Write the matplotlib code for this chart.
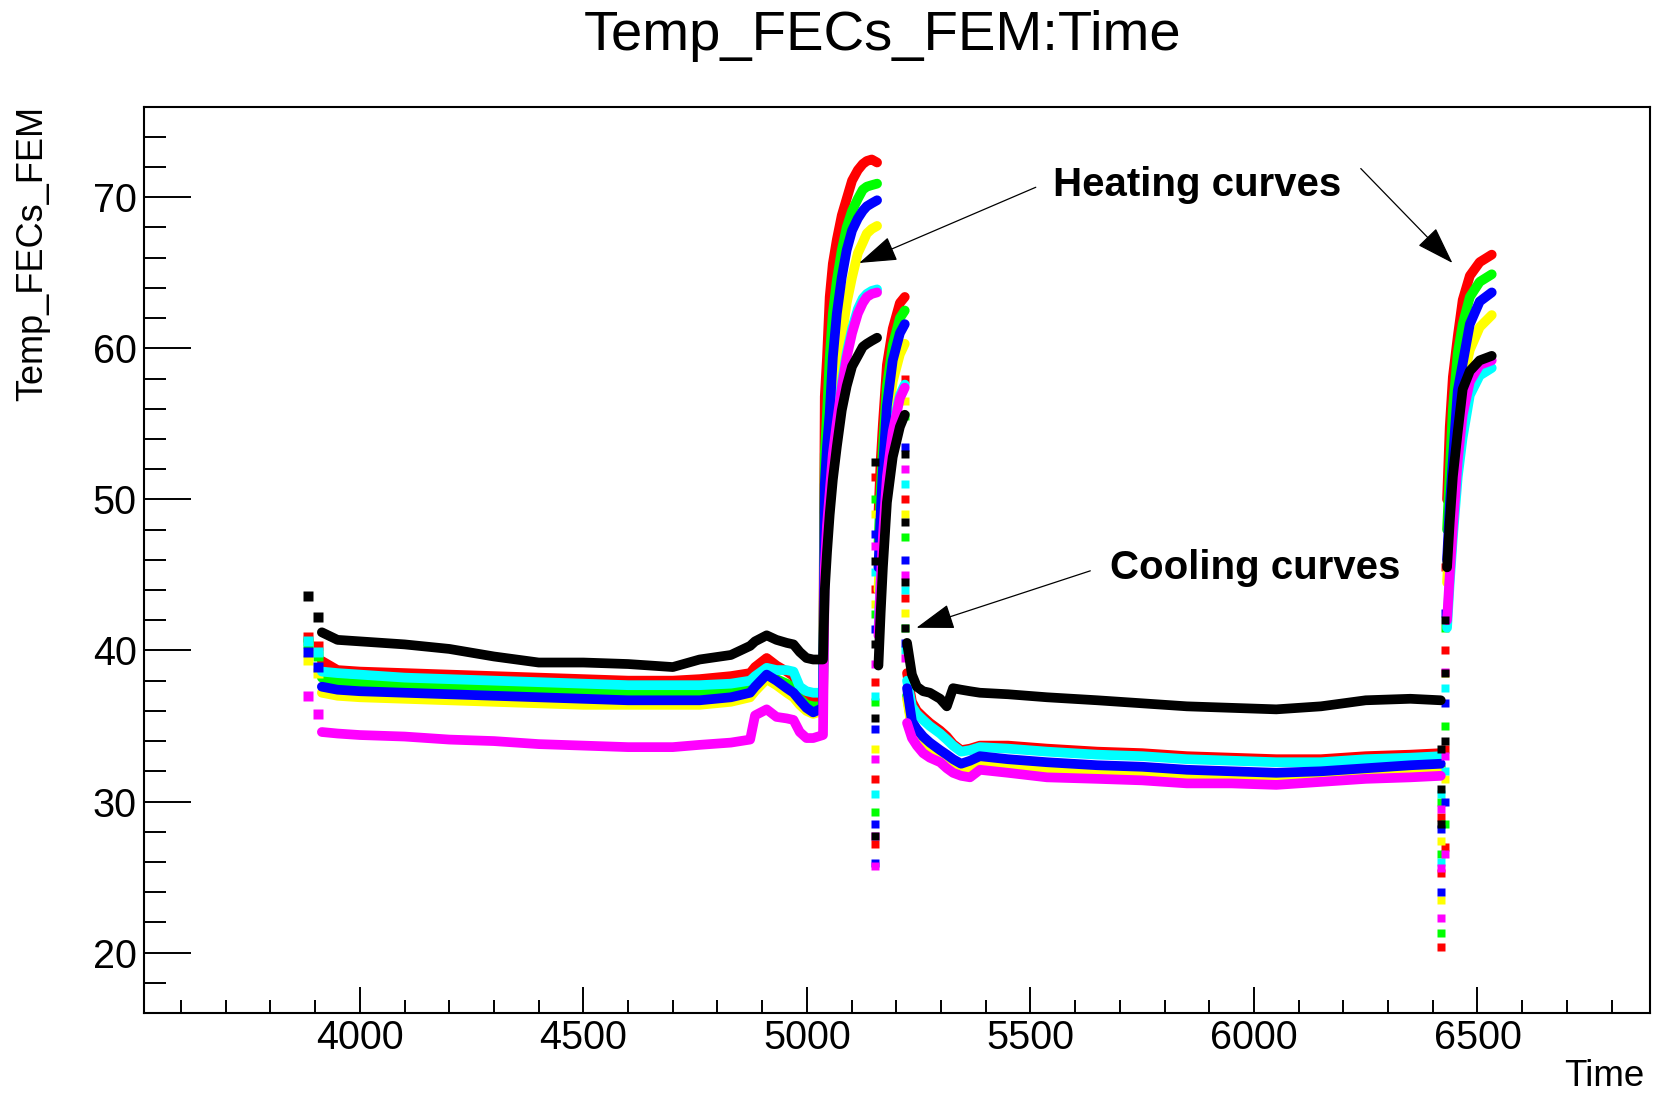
import matplotlib
matplotlib.use("Agg")
import matplotlib.pyplot as plt
from matplotlib.ticker import MultipleLocator

plt.rcParams["font.family"] = ["Liberation Sans", "DejaVu Sans"]

# ------------------------------------------------
# data (time, temperature)
# ------------------------------------------------
# series in drawing order, ROOT colours
SERIES = ["red", "green", "yellow", "cyan", "blue", "magenta", "black"]
COLORS = {"red": "#ff0000", "green": "#00ff00", "yellow": "#ffff00",
          "cyan": "#00ffff", "blue": "#0000ff", "magenta": "#ff00ff",
          "black": "#000000"}

# first two readings
START_T = [3884, 3906]
START = {
    "red":     [40.9, 40.3],
    "green":   [40.5, 39.6],
    "yellow":  [39.4, 38.5],
    "cyan":    [40.6, 39.9],
    "blue":    [39.9, 38.9],
    "magenta": [37.0, 35.8],
    "black":   [43.6, 42.2],
}

# slow drift before first heating, then heating curve 1
BASE_T = [3915, 3950, 4000, 4100, 4200, 4300, 4400, 4500, 4600, 4700, 4760,
          4830, 4873, 4884, 4910, 4932, 4955, 4970, 4984, 4999, 5014, 5036,
          5040, 5045, 5051, 5058, 5067, 5078, 5089, 5101, 5114, 5125, 5134,
          5145, 5157]
BASE = {
    "red":     [39.3, 38.7, 38.6, 38.5, 38.4, 38.3, 38.2, 38.1, 38.0, 38.0, 38.1,
                38.3, 38.5, 38.9, 39.5, 39.0, 38.6, 38.3, 37.2, 36.9, 36.8, 36.8,
                56.8, 59.4, 63.4, 65.6, 67.2, 68.8, 69.9, 71.1, 71.8, 72.2, 72.4,
                72.5, 72.3],
    "green":   [38.2, 37.9, 37.8, 37.7, 37.6, 37.5, 37.4, 37.2, 37.2, 37.2, 37.3,
                37.4, 37.6, 37.9, 38.4, 38.1, 37.8, 37.5, 36.8, 36.4, 36.3, 36.3,
                53.0, 55.7, 59.4, 62.3, 64.5, 66.5, 68.0, 69.1, 69.9, 70.5, 70.7,
                70.8, 70.9],
    "yellow":  [37.2, 37.0, 36.9, 36.8, 36.7, 36.6, 36.5, 36.4, 36.4, 36.4, 36.4,
                36.6, 36.9, 37.3, 38.1, 37.7, 37.2, 36.9, 36.4, 36.0, 35.8, 36.0,
                49.0, 51.5, 53.5, 55.7, 57.9, 60.7, 63.0, 64.7, 66.3, 67.0, 67.6,
                67.9, 68.1],
    "cyan":    [38.6, 38.5, 38.4, 38.2, 38.1, 38.0, 37.9, 37.8, 37.7, 37.7, 37.7,
                37.8, 38.0, 38.3, 38.85, 38.7, 38.7, 38.6, 37.6, 37.3, 37.2, 37.2,
                46.0, 48.8, 51.0, 53.4, 55.5, 57.7, 59.7, 61.3, 62.6, 63.3, 63.6,
                63.8, 63.9],
    "blue":    [37.6, 37.4, 37.3, 37.2, 37.1, 37.0, 36.9, 36.8, 36.7, 36.7, 36.7,
                36.9, 37.2, 37.6, 38.4, 38.0, 37.5, 37.2, 36.7, 36.2, 35.9, 36.2,
                51.0, 53.5, 55.7, 59.4, 62.3, 64.7, 66.5, 67.8, 68.6, 69.1, 69.4,
                69.6, 69.8],
    "magenta": [34.6, 34.5, 34.4, 34.3, 34.1, 34.0, 33.8, 33.7, 33.6, 33.6, 33.75,
                33.9, 34.1, 35.7, 36.1, 35.6, 35.5, 35.4, 34.6, 34.2, 34.2, 34.4,
                45.5, 48.3, 50.5, 53.0, 55.1, 57.4, 59.4, 61.0, 62.3, 63.0, 63.4,
                63.6, 63.7],
    "black":   [41.2, 40.7, 40.6, 40.4, 40.1, 39.6, 39.2, 39.2, 39.1, 38.9, 39.4,
                39.7, 40.3, 40.6, 41.0, 40.7, 40.5, 40.4, 39.9, 39.5, 39.4, 39.4,
                44.0, 46.5, 49.0, 51.3, 53.5, 55.9, 57.5, 58.8, 59.5, 60.1, 60.3,
                60.5, 60.7],
}

# fast drop after heating 1 (single readings)
DROP1_T = 5153
DROP1 = {
    "red":     [51.5, 44.1, 37.9, 31.5, 27.2],
    "green":   [50.0, 42.4, 36.6, 29.3],
    "yellow":  [49.0, 43.1, 33.5],
    "cyan":    [45.2, 37.0, 30.5],
    "blue":    [47.7, 41.4, 34.8, 28.5, 25.9],
    "magenta": [46.9, 39.1, 32.8, 27.7, 25.7],
    "black":   [52.5, 45.9, 40.4, 35.5, 27.7],
}

# heating curve 2
HEAT2_T = [5160, 5165, 5170, 5179, 5192, 5208, 5219]
HEAT2 = {
    "red":     [49.0, 52.5, 55.0, 58.9, 61.3, 63.0, 63.4],
    "green":   [47.0, 50.5, 53.5, 57.5, 60.2, 62.0, 62.5],
    "yellow":  [44.0, 47.5, 50.5, 54.8, 57.8, 59.6, 60.3],
    "cyan":    [41.3, 44.8, 47.8, 51.8, 54.8, 56.9, 57.6],
    "blue":    [45.5, 49.0, 52.0, 56.2, 59.2, 61.0, 61.6],
    "magenta": [41.0, 44.5, 47.5, 51.5, 54.5, 56.7, 57.4],
    "black":   [39.0, 42.5, 45.5, 49.8, 52.8, 54.8, 55.6],
}

# fast drop after heating 2
DROP2_T = 5219
DROP2 = {
    "red":     [58.0, 50.0, 43.5],
    "green":   [55.5, 47.5, 41.5],
    "yellow":  [56.5, 49.0, 42.5],
    "cyan":    [51.0, 44.0, 40.0],
    "blue":    [53.5, 46.0, 40.5],
    "magenta": [52.0, 45.0, 39.5],
    "black":   [53.0, 48.5, 44.5, 41.5],
}

# cooling curve and long plateau
COOL_T = [5224, 5235, 5246, 5260, 5275, 5298, 5313, 5327, 5345, 5365, 5387,
          5450, 5537, 5650, 5750, 5850, 5950, 6050, 6150, 6250, 6350, 6418]
COOL = {
    "red":     [38.5, 36.6, 36.0, 35.6, 35.2, 34.7, 34.3, 33.8, 33.4, 33.5, 33.7,
                33.7, 33.5, 33.3, 33.2, 33.0, 32.9, 32.8, 32.8, 33.0, 33.1, 33.2],
    "green":   [37.0, 35.0, 34.5, 34.0, 33.6, 33.1, 32.8, 32.5, 32.2, 32.4, 32.7,
                32.5, 32.3, 32.1, 32.0, 31.9, 31.8, 31.7, 31.8, 32.0, 32.2, 32.3],
    "yellow":  [36.8, 34.8, 34.3, 33.8, 33.4, 32.9, 32.6, 32.3, 32.0, 32.2, 32.5,
                32.3, 32.1, 31.9, 31.8, 31.7, 31.6, 31.5, 31.6, 31.8, 32.0, 32.1],
    "cyan":    [38.0, 36.3, 35.8, 35.4, 35.0, 34.5, 34.1, 33.7, 33.3, 33.4, 33.6,
                33.5, 33.3, 33.1, 33.0, 32.8, 32.7, 32.6, 32.6, 32.8, 32.9, 33.0],
    "blue":    [37.5, 35.3, 34.8, 34.3, 33.9, 33.4, 33.1, 32.8, 32.5, 32.7, 33.0,
                32.8, 32.6, 32.4, 32.3, 32.1, 32.0, 31.9, 32.0, 32.2, 32.4, 32.5],
    "magenta": [35.2, 34.2, 33.7, 33.2, 32.9, 32.6, 32.2, 31.9, 31.7, 31.6, 32.1,
                31.9, 31.6, 31.5, 31.4, 31.2, 31.2, 31.1, 31.3, 31.5, 31.6, 31.7],
    "black":   [40.5, 38.4, 37.6, 37.3, 37.2, 36.8, 36.3, 37.5, 37.4, 37.3, 37.2,
                37.1, 36.9, 36.7, 36.5, 36.3, 36.2, 36.1, 36.3, 36.7, 36.8, 36.7],
}

# drop at the end of the plateau and the fast rise after it
DROP3_T = 6418
DROP3 = {
    "red":     [29.0, 25.3, 20.4],
    "green":   [30.0, 26.5, 21.3],
    "yellow":  [27.4, 23.5],
    "cyan":    [30.5, 26.0],
    "blue":    [28.2, 24.0],
    "magenta": [29.5, 25.6, 22.3],
    "black":   [33.5, 30.8, 28.5],
}
RISE3_T = 6427
RISE3 = {
    "red":     [27.0, 33.5, 40.0, 45.5],
    "green":   [28.5, 35.0, 41.5],
    "yellow":  [31.5, 38.5],
    "cyan":    [32.0, 37.5],
    "blue":    [30.0, 36.5, 42.5],
    "magenta": [26.5, 33.0, 38.6],
    "black":   [34.0, 38.5, 42.0],
}

# heating curve 3
HEAT3_T = [6432, 6438, 6445, 6456, 6467, 6483, 6505, 6532]
HEAT3 = {
    "red":     [50.0, 54.8, 58.1, 60.8, 63.2, 64.8, 65.7, 66.2],
    "green":   [48.0, 51.8, 56.0, 59.7, 61.6, 63.4, 64.4, 64.9],
    "yellow":  [44.5, 48.0, 51.5, 54.5, 57.8, 59.9, 61.4, 62.2],
    "cyan":    [41.5, 44.5, 47.5, 51.5, 54.1, 56.9, 58.2, 58.7],
    "blue":    [46.0, 49.5, 52.6, 57.2, 59.0, 61.6, 63.1, 63.7],
    "magenta": [42.0, 45.0, 48.1, 52.6, 55.6, 57.8, 58.9, 59.2],
    "black":   [45.5, 48.5, 51.5, 54.5, 57.3, 58.5, 59.2, 59.5],
}

# annotation anchors (time, temperature)
HEAT_TEXT = (5550, 70.05)
HEAT_ARROWS = [((5512, 70.66), (5117, 65.65)), ((6239, 71.9), (6444, 65.65))]
COOL_TEXT = (5679, 44.7)
COOL_ARROW = ((5634, 45.27), (5245, 41.5))


# ------------------------------------------------
# drawing helpers
# ------------------------------------------------
def draw_line(ax, t, vals, color):
    ax.plot(t, vals, color=color, lw=7, solid_capstyle="round",
            solid_joinstyle="round")


def draw_dots(ax, t, vals, color):
    ax.plot([t] * len(vals), vals, ls="none", marker="s", ms=6,
            mec="none", color=color)


W, H = 1655, 1096
fig = plt.figure(figsize=(W / 100, H / 100), dpi=100)
ax = fig.add_axes([143.5 / W, 1 - 1013 / H, (1650 - 143.5) / W, (1013 - 106.6) / H])

for name in SERIES:
    c = COLORS[name]
    ax.plot(START_T, START[name], ls="none", marker="s", ms=6.5, mec="none", color=c)
    draw_line(ax, BASE_T, BASE[name], c)
    draw_dots(ax, DROP1_T, DROP1[name], c)
    draw_line(ax, HEAT2_T, HEAT2[name], c)
    draw_dots(ax, DROP2_T, DROP2[name], c)
    draw_line(ax, COOL_T, COOL[name], c)
    draw_dots(ax, DROP3_T, DROP3[name], c)
    draw_dots(ax, RISE3_T, RISE3[name], c)
    draw_line(ax, HEAT3_T, HEAT3[name], c)

ax.set_xlim(3516, 6886)
ax.set_ylim(16, 76)

ax.xaxis.set_major_locator(MultipleLocator(500))
ax.xaxis.set_minor_locator(MultipleLocator(100))
ax.yaxis.set_major_locator(MultipleLocator(10))
ax.yaxis.set_minor_locator(MultipleLocator(2))

ax.tick_params(which="both", direction="in", top=False, right=False,
               width=1.4, color="black", labelsize=28.5)
ax.tick_params(axis="x", which="major", length=18.7, pad=4)
ax.tick_params(axis="x", which="minor", length=9.4)
ax.tick_params(axis="y", which="major", length=33.8, pad=5)
ax.tick_params(axis="y", which="minor", length=15.8)
for sp in ax.spines.values():
    sp.set_linewidth(1.5)

# titles and axis labels (ROOT style placement)
fig.text(883 / W, 1 - 49.6 / H, "Temp_FECs_FEM:Time", ha="center",
         va="baseline", fontsize=40.5)
fig.text(32.7 / W, 1 - 105.5 / H, "Temp_FECs_FEM", rotation=90,
         ha="center", va="top", fontsize=26)
fig.text(1644.5 / W, 1 - 1086 / H, "Time", ha="right", va="baseline",
         fontsize=26.5)

# annotations
arrow_style = dict(arrowstyle="-|>,head_length=1.2,head_width=0.4",
                   mutation_scale=20, lw=0.9, color="black",
                   shrinkA=0, shrinkB=0)
ax.text(HEAT_TEXT[0], HEAT_TEXT[1], "Heating curves", fontsize=29,
        fontweight="bold", va="baseline", ha="left")
for tail, tip in HEAT_ARROWS:
    ax.annotate("", xy=tip, xytext=tail, arrowprops=arrow_style)
ax.text(COOL_TEXT[0], COOL_TEXT[1], "Cooling curves", fontsize=29,
        fontweight="bold", va="baseline", ha="left")
ax.annotate("", xy=COOL_ARROW[1], xytext=COOL_ARROW[0], arrowprops=arrow_style)

fig.savefig("out.png", dpi=100)
